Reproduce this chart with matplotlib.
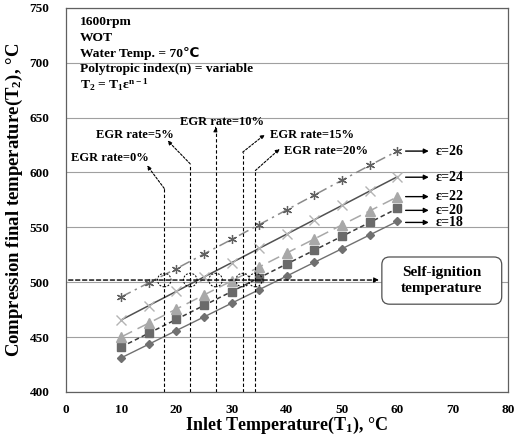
import matplotlib
matplotlib.use("Agg")
import matplotlib.pyplot as plt
from matplotlib.patches import FancyBboxPatch

plt.rcParams['font.family'] = ['Liberation Serif', 'DejaVu Sans']
plt.rcParams['font.weight'] = 'bold'
plt.rcParams['axes.labelweight'] = 'bold'
plt.rcParams['mathtext.fontset'] = 'custom'
plt.rcParams['mathtext.rm'] = 'Liberation Serif:bold'
plt.rcParams['mathtext.it'] = 'Liberation Serif:bold'
plt.rcParams['mathtext.bf'] = 'Liberation Serif:bold'

# inlet temperature (C) and compression final temperature (C) per compression ratio
t1 = [10, 15, 20, 25, 30, 35, 40, 45, 50, 55, 60]
t2_e18 = [431.1, 443.5, 456.0, 468.4, 480.9, 493.3, 505.7, 518.2, 530.6, 543.1, 555.5]
t2_e20 = [441.0, 453.6, 466.2, 478.9, 491.5, 504.1, 516.7, 529.3, 541.9, 554.5, 567.2]
t2_e22 = [450.1, 462.8, 475.6, 488.4, 501.2, 513.9, 526.7, 539.5, 552.3, 565.0, 577.8]
t2_e24 = [465.6, 478.7, 491.7, 504.8, 517.8, 530.9, 543.9, 557.0, 570.0, 583.1, 596.1]
t2_e26 = [486.6, 499.5, 512.4, 525.8, 539.0, 552.5, 566.0, 579.5, 593.0, 606.5, 619.5]

self_ignition = 502
egr_labels = ['EGR rate=0%', 'EGR rate=5%', 'EGR rate=10%', 'EGR rate=15%', 'EGR rate=20%']
egr_t1 = [17.8, 22.5, 27.1, 32.0, 34.3]

fig = plt.figure(figsize=(5.15, 4.37), dpi=100)
ax = fig.add_axes([0.128, 0.103, 0.858, 0.879])

ax.set_xlim(0, 80)
ax.set_ylim(400, 750)
ax.set_xticks(range(0, 81, 10))
ax.set_yticks(range(400, 751, 50))
ax.tick_params(length=0, labelsize=9.5, pad=9)
ax.tick_params(axis='y', pad=12)
ax.grid(axis='y', color='#a0a0a0', lw=0.8)
ax.set_axisbelow(True)
for s in ax.spines.values():
    s.set_color('#606060')
    s.set_linewidth(0.9)

ax.set_xlabel('Inlet Temperature(T$_1$), °C', fontsize=13, labelpad=-1)
ax.set_ylabel('Compression final temperature(T$_2$), °C', fontsize=13.5, labelpad=3)

# compression ratio series
ax.plot(t1, t2_e18, color='#707070', lw=1.0, marker='D', ms=4.5, mfc='#707070', mec='#707070')
ax.plot(t1, t2_e20, color='#3a3a3a', lw=1.1, ls=(0, (3, 2)), marker='s', ms=6, mfc='#6a6a6a', mec='#6a6a6a')
ax.plot(t1, t2_e22, color='#a8a8a8', lw=1.1, ls=(0, (8, 4)), marker='^', ms=6.5, mfc='#a8a8a8', mec='#a8a8a8')
ax.plot(t1, t2_e24, color='#505050', lw=1.1, marker='x', ms=7, mec='#b4b4b4', mew=1.0)
ax.plot(t1, t2_e26, color='#8a8a8a', lw=1.1, ls=(0, (7, 3, 1.5, 3)), marker=(6, 2, 0), ms=6.5, mec='#606060', mew=0.9)

# epsilon labels at the end of each line
eps_text = ['ε=26', 'ε=24', 'ε=22', 'ε=20', 'ε=18']
eps_y = [619.5, 595.7, 578.0, 565.5, 554.5]
for txt, y in zip(eps_text, eps_y):
    ax.annotate('', xy=(66.2, y), xytext=(61.0, y),
                arrowprops=dict(arrowstyle='-|>', color='black', lw=1.0, mutation_scale=7))
    ax.text(66.9, y, txt, fontsize=10, va='center', ha='left')

# self-ignition temperature line with box
ax.annotate('', xy=(57.2, self_ignition), xytext=(0, self_ignition),
            arrowprops=dict(arrowstyle='-|>', color='black', lw=1.0, ls=(0, (3, 2)), mutation_scale=7))
box = FancyBboxPatch((57.2, 480), 21.7, 43, boxstyle='round,pad=0,rounding_size=1.4',
                     mutation_aspect=5.0, fc='white', ec='#505050', lw=0.9, zorder=3)
ax.add_patch(box)
ax.text(68.0, 501.5, 'Self-ignition\ntemperature', fontsize=11, ha='center', va='center',
        linespacing=1.35, zorder=4)

# EGR rate crossing points
egr_top = [585.5, 607.9, 641.0, 618.5, 601.8]
egr_head = [(14.7, 606.4), (18.4, 629.1), (27.1, 641.2), (36.0, 634.5), (38.7, 621.5)]
egr_text_pos = [(8.0, 613.6, 'center'), (12.5, 634.5, 'center'), (28.2, 645.7, 'center'),
                (36.9, 634.5, 'left'), (39.5, 620.0, 'left')]
for x, top, head, (tx, ty, ha), lab in zip(egr_t1, egr_top, egr_head, egr_text_pos, egr_labels):
    ax.plot([x, x], [400, top], color='black', lw=0.8, ls=(0, (3, 2)))
    ax.annotate('', xy=head, xytext=(x, top),
                arrowprops=dict(arrowstyle='-|>', color='black', lw=0.8, ls=(0, (2, 1.5)),
                                mutation_scale=6, shrinkA=0, shrinkB=0))
    ax.text(tx, ty, lab, fontsize=9, ha=ha, va='center')

ax.scatter(egr_t1, [self_ignition] * len(egr_t1), s=95, facecolors='none',
           edgecolors='black', linewidths=0.7, linestyles=(0, (2, 1.5)), zorder=5)

# test condition notes
notes = ['1600rpm', 'WOT', 'Water Temp. = 70℃', 'Polytropic index(n) = variable',
         'T$_2$ = T$_1$ε$^{n-1}$']
for i, line in enumerate(notes):
    ax.text(2.5, 737 - i * 14.3, line, fontsize=9.7, ha='left', va='center')

fig.savefig('out.png', dpi=100)
